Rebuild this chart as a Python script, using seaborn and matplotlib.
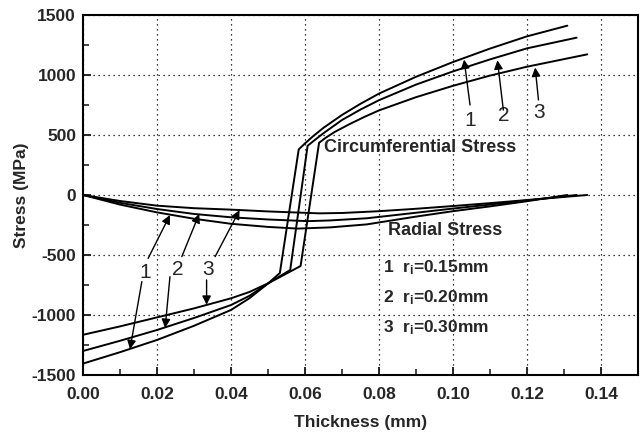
import matplotlib
matplotlib.use("Agg")
import matplotlib.pyplot as plt
from matplotlib.ticker import MultipleLocator
import seaborn as sns

# Stress distributions across the tube wall for three inner radii
curve_ids = ["1", "2", "3"]
inner_radii = ["0.15", "0.20", "0.30"]

# Circumferential stress (MPa) against thickness (mm)
circ_x_1 = [0.0, 0.01, 0.02, 0.03, 0.04, 0.045, 0.0501, 0.0532, 0.0583, 0.060, 0.062, 0.065, 0.07, 0.075, 0.08, 0.09, 0.10, 0.11, 0.12, 0.1309]
circ_y_1 = [-1405, -1310, -1208, -1090, -958, -860, -735, -650, 380, 430, 485, 560, 667, 760, 845, 985, 1108, 1220, 1322, 1411]
circ_x_2 = [0.0, 0.01, 0.02, 0.03, 0.04, 0.045, 0.0501, 0.056, 0.0607, 0.0625, 0.065, 0.07, 0.075, 0.08, 0.09, 0.10, 0.11, 0.12, 0.1334]
circ_y_2 = [-1300, -1215, -1125, -1025, -917, -840, -735, -625, 410, 455, 515, 625, 712, 790, 920, 1030, 1130, 1222, 1311]
circ_x_3 = [0.0, 0.01, 0.02, 0.03, 0.04, 0.045, 0.0501, 0.0588, 0.0638, 0.0655, 0.068, 0.072, 0.076, 0.08, 0.09, 0.10, 0.11, 0.12, 0.1363]
circ_y_3 = [-1165, -1095, -1020, -945, -861, -808, -735, -592, 435, 475, 525, 590, 650, 705, 815, 910, 995, 1069, 1172]

# Radial stress (MPa) against thickness (mm)
rad_x_1 = [0.0, 0.01, 0.02, 0.03, 0.04, 0.05, 0.058, 0.0668, 0.0767, 0.09, 0.10, 0.11, 0.12, 0.1309]
rad_y_1 = [0, -80, -145, -198, -240, -266, -280, -270, -245, -180, -135, -95, -52, 0]
rad_x_2 = [0.0, 0.01, 0.02, 0.03, 0.04, 0.05, 0.0607, 0.0668, 0.0767, 0.09, 0.10, 0.11, 0.12, 0.1334]
rad_y_2 = [0, -65, -117, -158, -186, -204, -218, -212, -194, -148, -113, -80, -45, 0]
rad_x_3 = [0.0, 0.01, 0.02, 0.03, 0.04, 0.05, 0.0638, 0.07, 0.08, 0.09, 0.10, 0.11, 0.12, 0.1363]
rad_y_3 = [0, -50, -89, -110, -122, -137, -153, -150, -135, -115, -92, -68, -42, 0]

x_ticks = [0.00, 0.02, 0.04, 0.06, 0.08, 0.10, 0.12, 0.14]
y_ticks = [-1500, -1000, -500, 0, 500, 1000, 1500]

sns.set_theme(style="ticks")
plt.rcParams["font.family"] = ["Liberation Sans", "DejaVu Sans"]
plt.rcParams["mathtext.fontset"] = "custom"
plt.rcParams["mathtext.rm"] = "Liberation Sans:bold"
plt.rcParams["mathtext.it"] = "Liberation Sans:bold"
plt.rcParams["mathtext.bf"] = "Liberation Sans:bold"

fig = plt.figure(figsize=(6.4, 4.37), dpi=100)
ax = fig.add_axes([0.1297, 0.1419, 0.8672, 0.8238])

curves = [
    (circ_x_1, circ_y_1), (circ_x_2, circ_y_2), (circ_x_3, circ_y_3),
    (rad_x_1, rad_y_1), (rad_x_2, rad_y_2), (rad_x_3, rad_y_3),
]
for xs, ys in curves:
    sns.lineplot(x=xs, y=ys, color="black", linewidth=1.4, sort=False,
                 estimator=None, ax=ax)

ax.set_xlim(0.0, 0.15)
ax.set_ylim(-1500, 1500)
ax.set_xticks(x_ticks)
ax.set_xticklabels([f"{v:.2f}" for v in x_ticks])
ax.set_yticks(y_ticks)
ax.set_yticklabels([str(v) for v in y_ticks])
ax.xaxis.set_minor_locator(MultipleLocator(0.01))
ax.yaxis.set_minor_locator(MultipleLocator(250))
ax.tick_params(axis="both", which="major", direction="in", length=6, width=1.4,
               labelsize=12.5, top=False, right=False)
ax.tick_params(axis="x", which="major", pad=9)
ax.tick_params(axis="y", which="major", pad=5)
ax.tick_params(axis="both", which="minor", direction="in", length=4, width=1.2,
               top=False, right=False)
for lab in ax.get_xticklabels() + ax.get_yticklabels():
    lab.set_fontweight("bold")
ax.grid(True, which="major", color="black", linestyle=(0, (1, 3)), linewidth=0.9)
for sp in ax.spines.values():
    sp.set_visible(True)
    sp.set_linewidth(1.5)
    sp.set_color("black")

ax.set_xlabel("Thickness (mm)", fontsize=12.5, fontweight="bold", labelpad=9)
ax.set_ylabel("Stress (MPa)", fontsize=12.5, fontweight="bold", labelpad=2)

ax.text(0.0651, 392, "Circumferential Stress", fontsize=13, fontweight="bold",
        ha="left", va="center")
ax.text(0.0824, -300, "Radial Stress", fontsize=13, fontweight="bold",
        ha="left", va="center")
for cid, r, yy in zip(curve_ids, inner_radii, [-604, -854, -1104]):
    ax.text(0.0811, yy, cid + "  r$_{\\mathrm{i}}$=" + r + "mm", fontsize=12.5,
            fontweight="bold", ha="left", va="center")

arrow_kw = dict(arrowstyle="-|>", color="black", lw=1.0, mutation_scale=13,
                shrinkA=0, shrinkB=0)

# numbered labels pointing at the circumferential curves (right side)
right_labels = [(0.1046, 621), (0.1138, 661), (0.1232, 687)]
right_tails = [(0.1046, 750), (0.1136, 708), (0.1231, 792)]
right_tips = [(0.1030, 1128), (0.1120, 1122), (0.1222, 1062)]
for cid, lab, tail, tip in zip(curve_ids, right_labels, right_tails, right_tips):
    ax.text(lab[0], lab[1], cid, fontsize=15, ha="center", va="center")
    ax.annotate("", xy=tip, xytext=tail, arrowprops=arrow_kw)

# numbered labels pointing at radial (up) and compressive circumferential (down) curves
left_labels = [(0.0168, -646), (0.0255, -617), (0.0339, -617)]
up_tails = [(0.0176, -528), (0.0267, -514), (0.0357, -514)]
up_tips = [(0.0235, -167), (0.0314, -158), (0.0423, -127)]
down_tails = [(0.0159, -722), (0.0235, -681), (0.0334, -708)]
down_tips = [(0.0127, -1285), (0.0222, -1108), (0.0334, -915)]
for cid, lab, t1, p1, t2, p2 in zip(curve_ids, left_labels, up_tails, up_tips,
                                     down_tails, down_tips):
    ax.text(lab[0], lab[1], cid, fontsize=15, ha="center", va="center")
    ax.annotate("", xy=p1, xytext=t1, arrowprops=arrow_kw)
    ax.annotate("", xy=p2, xytext=t2, arrowprops=arrow_kw)

fig.savefig("out.png", dpi=100)
